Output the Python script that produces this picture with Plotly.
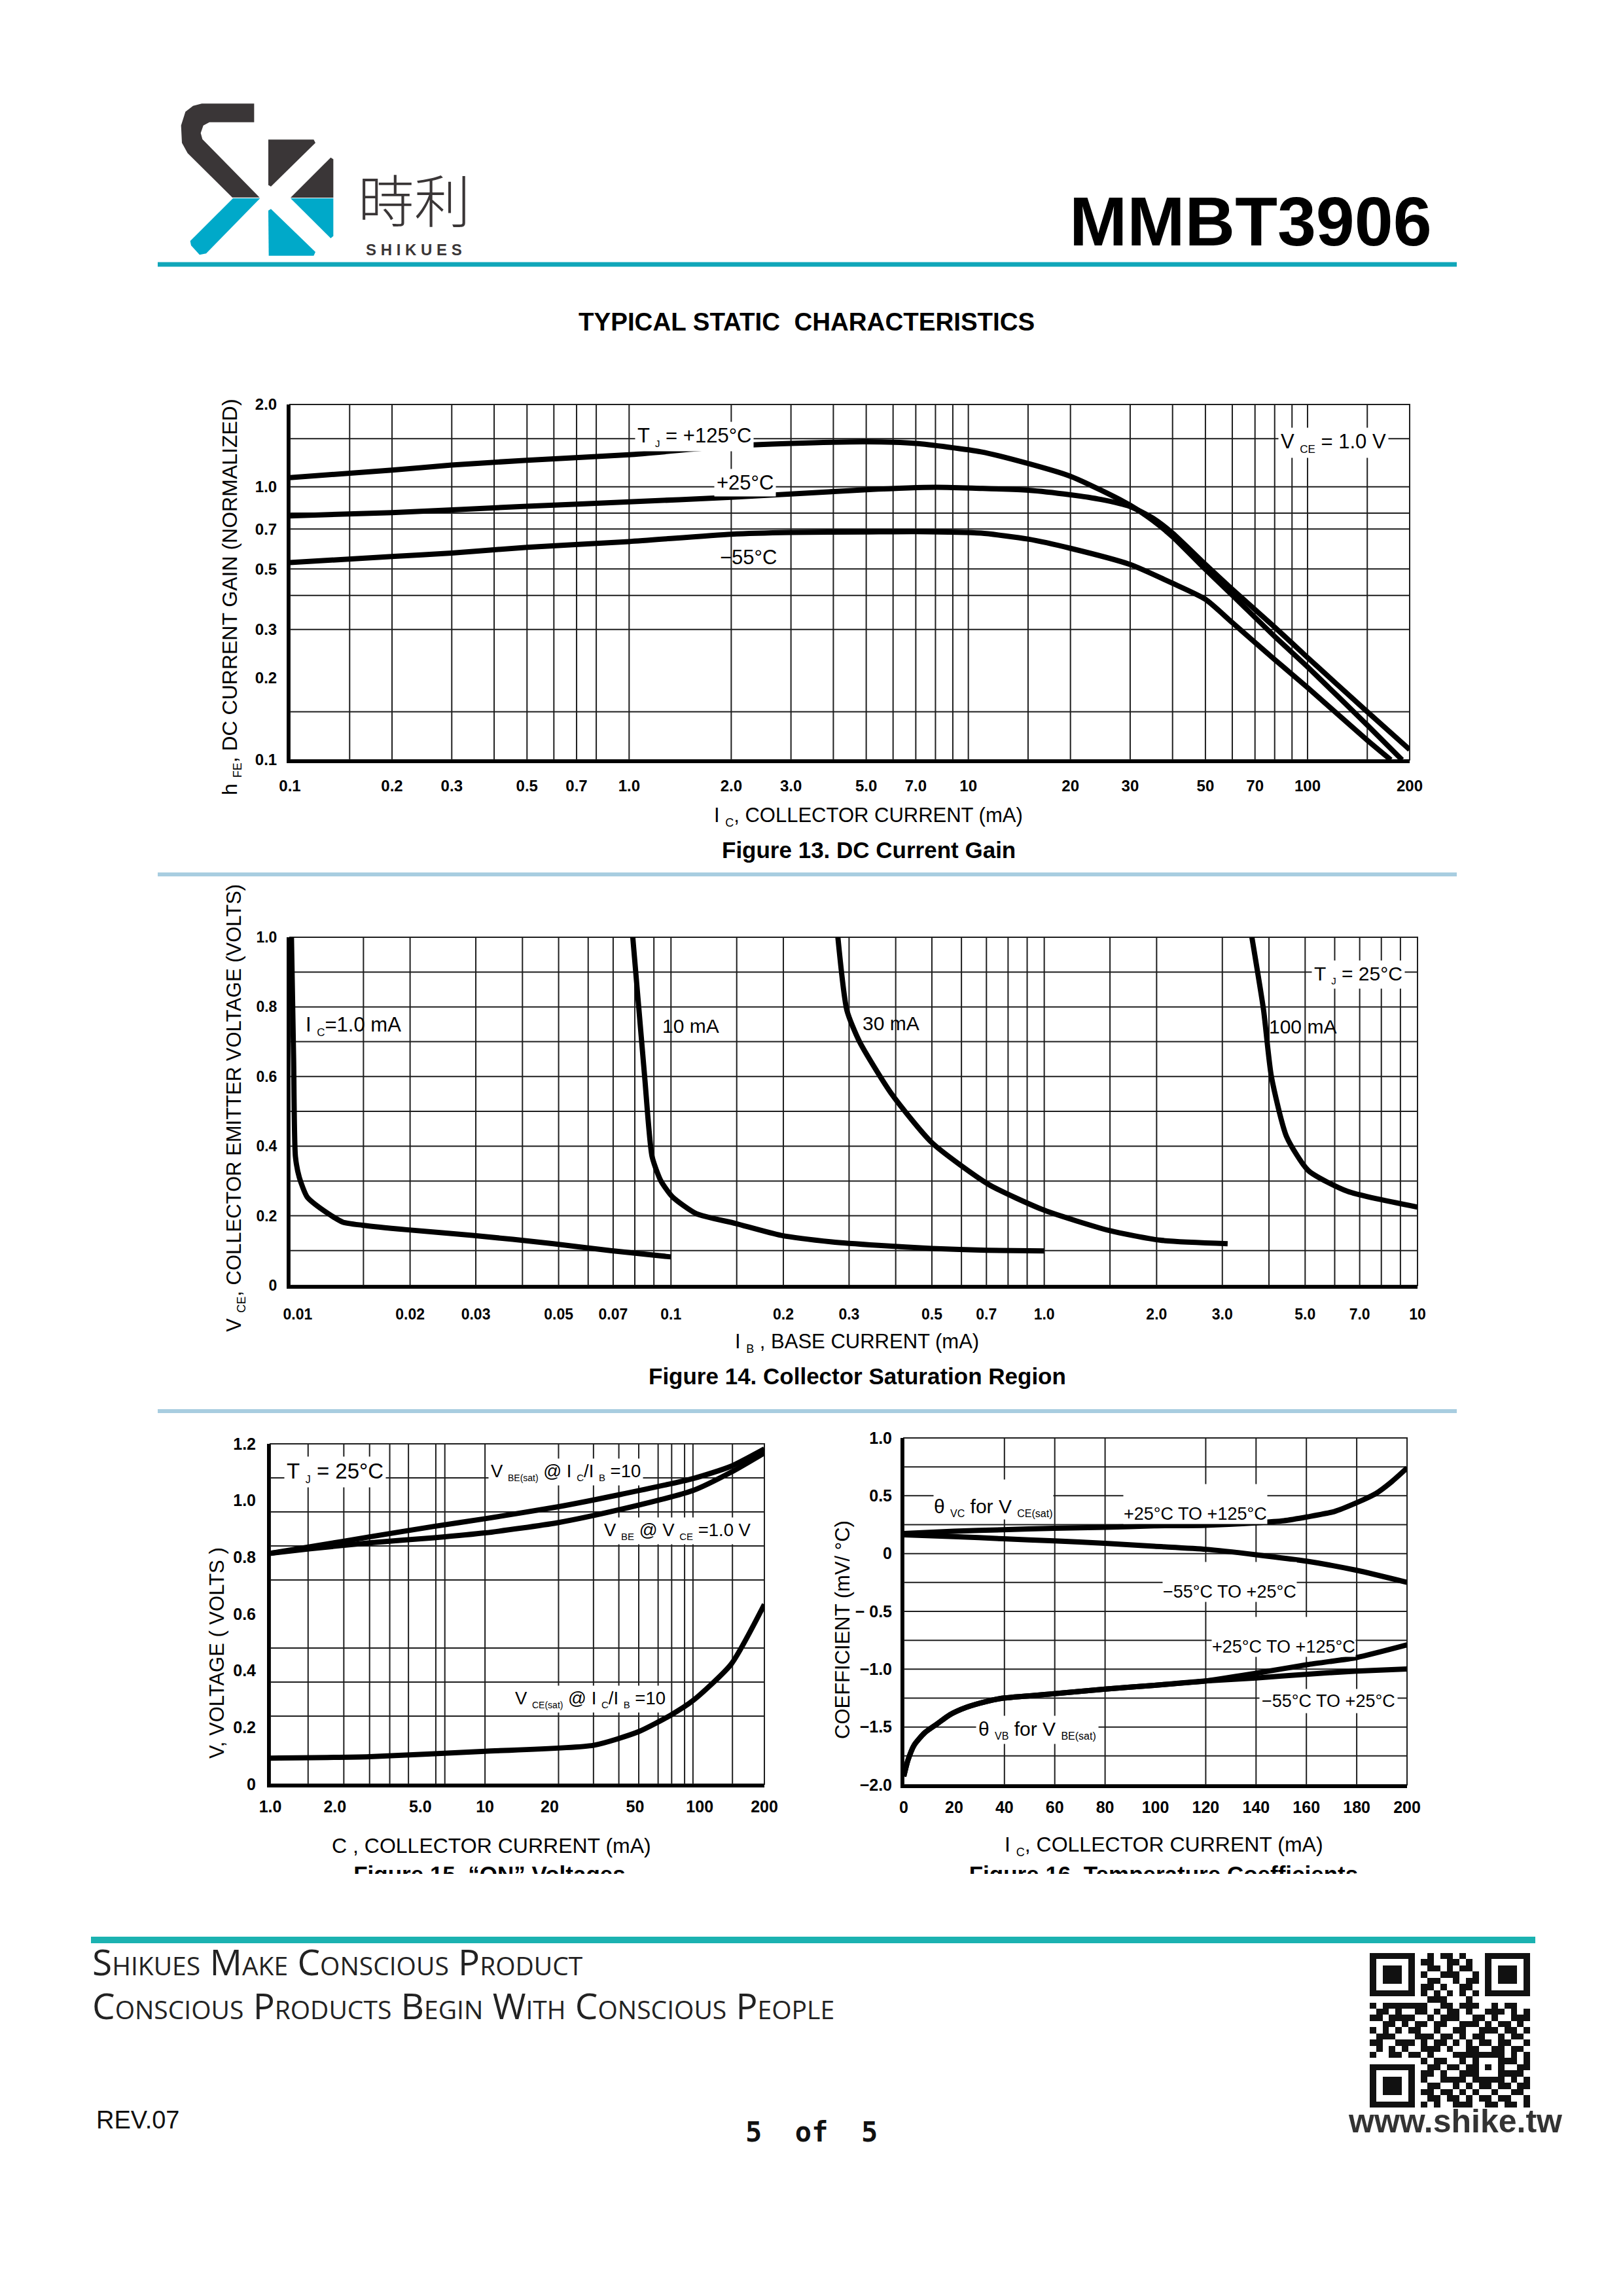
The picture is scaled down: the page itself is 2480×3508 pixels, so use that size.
import math
import plotly.graph_objects as go

# ---------------- data ----------------
# Figure 13: DC current gain, hFE (normalized) vs IC (mA), VCE = 1.0 V
ic_125 = [0.1, 0.2, 0.3, 0.5, 1.0, 2.0, 3.0, 5.0, 7.0, 10.9, 15, 20, 24.6, 30, 35, 40, 50, 60, 80, 100, 150, 190]
hfe_125 = [1.08, 1.15, 1.20, 1.25, 1.31, 1.41, 1.44, 1.46, 1.44, 1.342, 1.216, 1.092, 0.971, 0.855, 0.752, 0.656,
           0.498, 0.401, 0.283, 0.219, 0.134, 0.1]
ic_25 = [0.1, 0.2, 0.5, 1.0, 2.0, 3.0, 5.0, 8.0, 10.9, 15, 20, 24.6, 30, 35, 40, 50, 60, 80, 100, 150, 200]
hfe_25 = [0.782, 0.804, 0.848, 0.88, 0.915, 0.94, 0.975, 0.995, 0.986, 0.971, 0.934, 0.898, 0.846, 0.767, 0.676,
          0.519, 0.421, 0.306, 0.237, 0.150, 0.109]
ic_m55 = [0.1, 0.2, 0.3, 0.5, 1.0, 2.0, 3.0, 5.0, 7.0, 10.9, 15, 20, 30, 40, 50, 60, 80, 100, 150, 176]
hfe_m55 = [0.528, 0.555, 0.572, 0.60, 0.63, 0.67, 0.68, 0.683, 0.685, 0.676, 0.643, 0.595, 0.519, 0.443, 0.387,
           0.318, 0.233, 0.184, 0.118, 0.1]

# Figure 14: collector saturation region, VCE (V) vs IB (mA)
ib_1ma = [0.00962, 0.00975, 0.00986, 0.0101, 0.0106, 0.0117, 0.0132, 0.0149, 0.0196, 0.0294, 0.0484, 0.0688, 0.1]
vce_1ma = [1.0, 0.65, 0.37, 0.31, 0.254, 0.216, 0.182, 0.173, 0.16, 0.144, 0.12, 0.10, 0.082]
ib_10ma = [0.079, 0.085, 0.089, 0.094, 0.101, 0.117, 0.149, 0.197, 0.27, 0.36, 0.50, 0.70, 1.0]
vce_10ma = [1.0, 0.60, 0.37, 0.30, 0.254, 0.206, 0.178, 0.144, 0.125, 0.115, 0.106, 0.101, 0.099]
ib_30ma = [0.28, 0.296, 0.32, 0.39, 0.50, 0.71, 1.0, 1.49, 2.04, 3.1]
vce_30ma = [1.0, 0.79, 0.70, 0.55, 0.41, 0.29, 0.216, 0.158, 0.13, 0.12]
ib_100ma = [3.6, 3.87, 4.06, 4.46, 5.1, 6.5, 10]
vce_100ma = [1.0, 0.79, 0.60, 0.427, 0.33, 0.27, 0.225]

# Figure 15: "ON" voltages (V) vs IC (mA)
ic_on = [1.0, 1.536, 2.9, 5.79, 10, 21.8, 41.8, 93.5, 140, 200]
vbe_sat = [0.814, 0.837, 0.872, 0.909, 0.936, 0.978, 1.020, 1.078, 1.121, 1.182]
vbe_on = [0.814, 0.830, 0.851, 0.869, 0.886, 0.922, 0.967, 1.036, 1.100, 1.168]
ic_cesat = [1.0, 2.9, 10, 32, 51.9, 73.1, 93.5, 140, 200]
vce_sat = [0.092, 0.097, 0.116, 0.137, 0.185, 0.243, 0.296, 0.423, 0.634]

# Figure 16: temperature coefficients (mV/°C) vs IC (mA)
ic_vc_hot = [0, 20, 39.5, 59.8, 80, 99.6, 120, 140, 151, 160.5, 171, 180, 187.6, 194, 200]
vc_hot = [0.173, 0.193, 0.206, 0.219, 0.227, 0.240, 0.245, 0.266, 0.284, 0.318, 0.363, 0.44, 0.519, 0.623, 0.74]
ic_vc_cold = [0, 20, 39.5, 59.8, 80, 99.6, 120, 140, 160.5, 180, 200]
vc_cold = [0.162, 0.147, 0.128, 0.110, 0.089, 0.063, 0.037, -0.01, -0.067, -0.145, -0.249]
ic_vb = [0, 1.7, 4.2, 8.3, 13.3, 18.3, 24.9, 33.2, 39.5, 59.8, 80, 99.6, 120, 140, 160.5, 180, 200]
vb_hot = [-1.927, -1.784, -1.654, -1.55, -1.472, -1.394, -1.329, -1.277, -1.25, -1.212, -1.172, -1.139, -1.102,
          -1.035, -0.96, -0.899, -0.790]
vb_cold = [-1.927, -1.784, -1.654, -1.55, -1.472, -1.394, -1.329, -1.277, -1.25, -1.212, -1.172, -1.139, -1.102,
           -1.076, -1.043, -1.016, -0.998]

# grid lines and tick labels as printed on the page
grid13_x = [0.15, 0.2, 0.3, 0.4, 0.5, 0.6, 0.7, 0.8, 1.0, 2, 3, 4, 5, 6, 7, 8, 9, 10, 15, 20, 30, 40, 50, 60, 70,
            80, 90, 100, 150, 200]
grid13_y = [0.15, 0.3, 0.4, 0.5, 0.7, 0.8, 1.0, 1.5, 2.0]
ticks13_x = [0.1, 0.2, 0.3, 0.5, 0.7, 1.0, 2.0, 3.0, 5.0, 7.0, 10, 20, 30, 50, 70, 100, 200]
text13_x = ["0.1", "0.2", "0.3", "0.5", "0.7", "1.0", "2.0", "3.0", "5.0", "7.0", "10", "20", "30", "50", "70",
            "100", "200"]
ticks13_y = [0.1, 0.2, 0.3, 0.5, 0.7, 1.0, 2.0]
text13_y = ["0.1", "0.2", "0.3", "0.5", "0.7", "1.0", "2.0"]

grid14_x = [0.015, 0.02, 0.03, 0.04, 0.05, 0.06, 0.07, 0.08, 0.09, 0.1, 0.15, 0.2, 0.3, 0.4, 0.5, 0.6, 0.7, 0.8,
            0.9, 1.0, 1.5, 2, 3, 4, 5, 6, 7, 8, 9, 10]
grid14_y = [0.1, 0.2, 0.3, 0.4, 0.5, 0.6, 0.7, 0.8, 0.9, 1.0]
ticks14_x = [0.01, 0.02, 0.03, 0.05, 0.07, 0.1, 0.2, 0.3, 0.5, 0.7, 1.0, 2.0, 3.0, 5.0, 7.0, 10]
text14_x = ["0.01", "0.02", "0.03", "0.05", "0.07", "0.1", "0.2", "0.3", "0.5", "0.7", "1.0", "2.0", "3.0", "5.0",
            "7.0", "10"]
ticks14_y = [0, 0.2, 0.4, 0.6, 0.8, 1.0]
text14_y = ["0", "0.2", "0.4", "0.6", "0.8", "1.0"]

grid15_x = [1.5, 2.2, 2.9, 3.6, 4.4, 5.9, 6.5, 10, 22, 32, 42, 52, 64, 74, 85, 93, 142, 200]
grid15_y = [0.24, 0.36, 0.48, 0.72, 0.84, 0.96, 1.08, 1.2]
ticks15_x = [1, 2, 5, 10, 20, 50, 100, 200]
text15_x = ["1.0", "2.0", "5.0", "10", "20", "50", "100", "200"]
ticks15_y = [0, 0.2, 0.4, 0.6, 0.8, 1.0, 1.2]
text15_y = ["0", "0.2", "0.4", "0.6", "0.8", "1.0", "1.2"]

grid16_x = [40, 60, 80, 120, 140, 160, 180, 200]
grid16_y = [-1.75, -1.5, -1.25, -1.0, -0.75, -0.5, -0.25, 0, 0.25, 0.5, 0.75, 1.0]
ticks16_x = [0, 20, 40, 60, 80, 100, 120, 140, 160, 180, 200]
text16_x = ["0", "20", "40", "60", "80", "100", "120", "140", "160", "180", "200"]
ticks16_y = [-2.0, -1.5, -1.0, -0.5, 0, 0.5, 1.0]
text16_y = ["\u22122.0", "\u22121.5", "\u22121.0", "\u2212 0.5", "0", "0.5", "1.0"]

qr_rows = [
    "1111111001011010001111111",
    "1000001011001101001000001",
    "1011101001101011001011101",
    "1011101010011100101011101",
    "1011101001100101101011101",
    "1000001011010011001000001",
    "1111111010101010101111111",
    "0000000001110001000000000",
    "1011111110011011100101100",
    "0110100110101101001110101",
    "1101111001011100110100111",
    "0011010110110011101011010",
    "1010101100100110011101101",
    "0111000111011010110010110",
    "1100111010110101011011001",
    "0101010011101001100110110",
    "1001101101000111111110101",
    "0000000010110010100011101",
    "1111111001101101101010011",
    "1000001011010011100011110",
    "1011101010011110111110101",
    "1011101001100101011011011",
    "1011101011011010100100110",
    "1000001001101101011011001",
    "1111111010100111001101101",
]

# ---------------- page geometry (pixels of the 2480 x 3508 page) ----------------
W, H = 2480, 3508


def px(x):
    return x / W


def py(y):
    return 1 - y / H


FONT = "Liberation Sans, Arial, sans-serif"
NARROW = "Liberation Sans Narrow, Liberation Sans, Arial, sans-serif"
GRID = "#1e1e1e"
TEAL = "#10a6b9"
LOGO_DARK = "#3a3637"
LOGO_TEAL = "#00a9c9"

fig = go.Figure()
lay = {}
notes = []
shapes = []


def sub(t, size):
    # tiny subscript as printed on the datasheet
    return f"<sub><span style='font-size:{size}px'>{t}</span></sub>"


def axname(kind, n):
    return f"{kind}axis" if n == 1 else f"{kind}axis{n}"


def ref(kind, n):
    return kind if n == 1 else f"{kind}{n}"


def add_plot(n, box, xtype, xrange, xgrid, xticks, xtext, ytype, yrange, ygrid, yticks, ytext,
             tick_size, xstand, ystand):
    x0, x1, y0, y1 = box
    tf = dict(family=FONT, size=tick_size, color="black", weight="bold")
    base = dict(showgrid=False, tickmode="array", ticks="", zeroline=False, showline=True, linecolor="black",
                linewidth=5, fixedrange=True, tickfont=tf, automargin=False)
    lay[axname("x", n)] = dict(base, domain=[px(x0), px(x1)], anchor=ref("y", n), type=xtype, range=xrange,
                               tickvals=xticks, ticktext=xtext, ticklabelstandoff=xstand)
    lay[axname("y", n)] = dict(base, domain=[py(y1), py(y0)], anchor=ref("x", n), type=ytype, range=yrange,
                               tickvals=yticks, ticktext=ytext, ticklabelstandoff=ystand)
    # printed grid: one line per grid value, spanning the plot
    lo_x, hi_x = [10 ** v for v in xrange] if xtype == "log" else xrange
    lo_y, hi_y = [10 ** v for v in yrange] if ytype == "log" else yrange
    gx, gy = [], []
    for g in xgrid:
        gx += [g, g, None]
        gy += [lo_y, hi_y, None]
    for g in ygrid:
        gx += [lo_x, hi_x, None]
        gy += [g, g, None]
    fig.add_trace(go.Scatter(x=gx, y=gy, mode="lines", xaxis=ref("x", n), yaxis=ref("y", n), showlegend=False,
                             hoverinfo="skip", line=dict(color=GRID, width=2), cliponaxis=False))
    shapes.append(dict(type="rect", xref="paper", yref="paper", x0=px(x0), x1=px(x1), y0=py(y1), y1=py(y0),
                       line=dict(color=GRID, width=2), layer="below"))


def curve(n, x, y):
    fig.add_trace(go.Scatter(x=x, y=y, mode="lines", xaxis=ref("x", n), yaxis=ref("y", n), showlegend=False,
                             hoverinfo="skip",
                             line=dict(color="black", width=8, shape="spline", smoothing=0.6)))


def label(n, x, y, text, size, bg=True, xanchor="center", tall=False):
    a = dict(xref=ref("x", n), yref=ref("y", n), x=x, y=y, text=text, showarrow=False, xanchor=xanchor,
             yanchor="middle", font=dict(family=NARROW, size=size, color="black"))
    if bg:
        a.update(bgcolor="white", borderpad=3)
    if tall:
        a.update(yanchor="bottom", yshift=-17, height=60, valign="bottom", borderpad=0)
    notes.append(a)


def text(x, y, t, size, family=FONT, color="black", weight="normal", xanchor="center", angle=0, **kw):
    notes.append(dict(xref="paper", yref="paper", x=px(x), y=py(y), text=t, showarrow=False, xanchor=xanchor,
                      yanchor="middle", textangle=angle,
                      font=dict(family=family, size=size, color=color, weight=weight, **kw)))


def hline(y, x0, x1, width, color):
    shapes.append(dict(type="line", xref="paper", yref="paper", x0=px(x0), x1=px(x1), y0=py(y), y1=py(y),
                       line=dict(color=color, width=width)))


# ---------------- Figure 13 ----------------
add_plot(1, (443, 2154, 618, 1161), "log", [-1, math.log10(200)], grid13_x, ticks13_x, text13_x,
         "log", [-1, math.log10(2)], grid13_y, ticks13_y, text13_y, 24, 14, 10)
curve(1, ic_125, hfe_125)
curve(1, ic_25, hfe_25)
curve(1, ic_m55, hfe_m55)
label(1, math.log10(1.556), math.log10(1.53), "T " + sub("J", 15) + " = +125°C", 31)
label(1, math.log10(2.2), math.log10(1.035), "+25°C", 31)
label(1, math.log10(2.25), math.log10(0.553), "\u221255°C", 31, bg=False)
label(1, math.log10(119), math.log10(1.445), "V " + sub("CE", 17) + " = 1.0 V", 31)

# ---------------- Figure 14 ----------------
add_plot(2, (443, 2166, 1432, 1964), "log", [math.log10(0.00953), 1], grid14_x, ticks14_x, text14_x,
         "linear", [0, 1.0], grid14_y, ticks14_y, text14_y, 23, 19, 10)
curve(2, ib_1ma, vce_1ma)
curve(2, ib_10ma, vce_10ma)
curve(2, ib_30ma, vce_30ma)
curve(2, ib_100ma, vce_100ma)
label(2, math.log10(0.0104), 0.745, "I " + sub("C", 17) + "=1.0 mA", 31, bg=False, xanchor="left")
label(2, math.log10(0.094), 0.746, "10 mA", 30, bg=False, xanchor="left")
label(2, math.log10(0.323), 0.753, "30 mA", 30, bg=False, xanchor="left")
label(2, math.log10(3.96), 0.744, "100 mA", 30, bg=False, xanchor="left")
label(2, math.log10(5.2), 0.893, "T " + sub("J", 15) + " = 25°C", 30, xanchor="left")

# ---------------- Figure 15 ----------------
add_plot(3, (413, 1168, 2206, 2726), "log", [0, math.log10(200)], grid15_x, ticks15_x, text15_x,
         "linear", [0, 1.2], grid15_y, ticks15_y, text15_y, 25, 8, 12)
curve(3, ic_on, vbe_sat)
curve(3, ic_on, vbe_on)
curve(3, ic_cesat, vce_sat)
label(3, math.log10(2.0), 1.10, "T " + sub("J", 16) + " = 25°C", 33)
label(3, math.log10(23.7), 1.10,
      "V " + sub("BE(sat)", 14) + " @ I " + sub("C", 15) + "/I " + sub("B", 15) + " =10", 27.5)
label(3, math.log10(79), 0.893, "V " + sub("BE", 15) + " @ V " + sub("CE", 15) + " =1.0 V", 27.5)
label(3, math.log10(31), 0.301,
      "V " + sub("CE(sat)", 14) + " @ I " + sub("C", 15) + "/I " + sub("B", 15) + " =10", 27.5)

# ---------------- Figure 16 ----------------
add_plot(4, (1381, 2150, 2197, 2727), "linear", [0, 200], grid16_x, ticks16_x, text16_x,
         "linear", [-2.0, 1.0], grid16_y, ticks16_y, text16_y, 25, 8, 8)
curve(4, ic_vc_hot, vc_hot)
curve(4, ic_vc_cold, vc_cold)
curve(4, ic_vb, vb_hot)
curve(4, ic_vb, vb_cold)
label(4, 35.7, 0.389, "\u03b8 " + sub("VC", 16) + " for V " + sub("CE(sat)", 16), 30, tall=True)
label(4, 115.9, 0.35, "+25°C TO +125°C", 27, tall=True)
label(4, 129.5, -0.327, "\u221255°C TO +25°C", 27, tall=True)
label(4, 151, -0.80, "+25°C TO +125°C", 27, tall=True)
label(4, 168.8, -1.277, "\u221255°C TO +25°C", 27)
label(4, 53.1, -1.524, "\u03b8 " + sub("VB", 16) + " for V " + sub("BE(sat)", 16), 30)

# ---------------- axis titles and captions ----------------
text(353, 912, "h " + sub("FE", 18) + ", DC CURRENT GAIN (NORMALIZED)", 32, angle=-90)
text(1327, 1247, "I " + sub("C", 18) + ", COLLECTOR CURRENT (mA)", 31, family=NARROW)
text(1327, 1298, "Figure 13. DC Current Gain", 35, family=NARROW, weight="bold")
text(359, 1693, "V " + sub("CE", 18) + ", COLLECTOR EMITTER VOLTAGE (VOLTS)", 31, angle=-90)
text(1309, 2051, "I " + sub("B", 18) + " , BASE CURRENT (mA)", 31, family=NARROW)
text(1310, 2102, "Figure 14. Collector Saturation Region", 35, family=NARROW, weight="bold")
text(331, 2525, "V, VOLTAGE ( VOLTS )", 31, angle=-90)
text(751, 2820, "C , COLLECTOR CURRENT (mA)", 32, family=NARROW)
text(1287, 2490, "COEFFICIENT (mV/ °C)", 31, angle=-90)
text(1778, 2820, "I " + sub("C", 18) + ", COLLECTOR CURRENT (mA)", 32, family=NARROW)

# captions of figures 15/16 are cut off by the page edge: clipped text in a thin subplot
lay["xaxis10"] = dict(domain=[0, 1], range=[0, W], visible=False, fixedrange=True, anchor="y10", automargin=False)
lay["yaxis10"] = dict(domain=[py(2863), py(2828)], range=[0, 1], visible=False, fixedrange=True, anchor="x10",
                      automargin=False)
fig.add_trace(go.Scatter(x=[748, 1778], y=[-0.12, -0.12], mode="text", xaxis="x10", yaxis="y10",
                         text=["Figure 15. \u201cON\u201d Voltages", "Figure 16. Temperature Coefficients"],
                         textfont=dict(family=NARROW, size=35, color="black", weight="bold"),
                         cliponaxis=True, showlegend=False, hoverinfo="skip"))


# ---------------- header ----------------
def logo_path(pts):
    p = [(px(270 + a / 3), py(150 + b / 3)) for a, b in pts]
    return "M " + " L ".join(f"{x:.5f},{y:.5f}" for x, y in p) + " Z"


logo_parts = [
    ([(355, 25), (355, 110), (150, 110), (122, 125), (110, 160), (118, 188), (380, 455), (255, 455),
      (50, 252), (24, 205), (20, 125), (40, 62), (75, 35), (115, 25)], LOGO_DARK),
    ([(258, 459), (382, 459), (135, 712), (105, 718), (66, 675), (62, 655)], LOGO_TEAL),
    ([(420, 190), (628, 190), (636, 205), (432, 405), (420, 398)], LOGO_DARK),
    ([(706, 272), (718, 280), (718, 456), (522, 456)], LOGO_DARK),
    ([(522, 459), (718, 459), (718, 632), (706, 642)], LOGO_TEAL),
    ([(420, 515), (432, 508), (636, 705), (628, 722), (422, 722)], LOGO_TEAL),
]
for pts, col in logo_parts:
    shapes.append(dict(type="path", xref="paper", yref="paper", path=logo_path(pts), fillcolor=col,
                       line=dict(width=0)))

text(633, 302, "時利", 86, family="Noto Sans CJK TC, Noto Sans CJK SC, sans-serif", color=LOGO_DARK, weight=300)
text(632, 381, "S H I K U E S", 24, color=LOGO_DARK, weight="bold")
text(2190, 338, "MMBT3906", 106, weight="bold", xanchor="right")
hline(404, 241, 2226, 7, TEAL)
text(1232, 491, "TYPICAL STATIC\u00a0 CHARACTERISTICS", 38.5, weight="bold")
hline(1336, 241, 2226, 6, "#a8cde0")
hline(2156, 241, 2226, 6, "#a8cde0")

# ---------------- footer ----------------
hline(2964, 139, 2346, 10, "#1bb2b1")
text(139, 2996, "Shikues Make Conscious Product", 55, family="Open Sans, sans-serif", color="#222222",
     xanchor="left", variant="small-caps")
text(139, 3063, "Conscious Products Begin With Conscious People", 55, family="Open Sans, sans-serif",
     color="#222222", xanchor="left", variant="small-caps")
text(145, 3239, "REV.07", 38, xanchor="left", color="#111111")
text(1240, 3257, "5\u00a0\u00a0of\u00a0\u00a05", 42, family="DejaVu Sans Mono, monospace", color="#111111",
     weight="bold")
text(2389, 3241, "www.shike.tw", 50, xanchor="right", color="#333333", weight="bold")

qr = [[int(c) for c in row] for row in qr_rows]
lay["xaxis9"] = dict(domain=[px(2093), px(2338)], range=[-0.5, 24.5], visible=False, fixedrange=True,
                     anchor="y9", automargin=False)
lay["yaxis9"] = dict(domain=[py(3220), py(2984)], range=[24.5, -0.5], visible=False, fixedrange=True,
                     anchor="x9", automargin=False)
fig.add_trace(go.Heatmap(z=qr, xaxis="x9", yaxis="y9", colorscale=[[0, "white"], [1, "#111111"]],
                         zmin=0, zmax=1, showscale=False, hoverinfo="skip"))

fig.update_layout(
    width=W, height=H, margin=dict(l=0, r=0, t=0, b=0, pad=0, autoexpand=False),
    paper_bgcolor="white", plot_bgcolor="white", showlegend=False,
    annotations=notes, shapes=shapes, **lay,
)

# the page is exactly one A4 sheet: drop the browser's default body margin and scrollbars
fig.write_html("out.html", config={"displayModeBar": False},
               post_script="document.body.style.margin='0';document.body.style.overflow='hidden';"
                           "document.documentElement.style.overflow='hidden';")
